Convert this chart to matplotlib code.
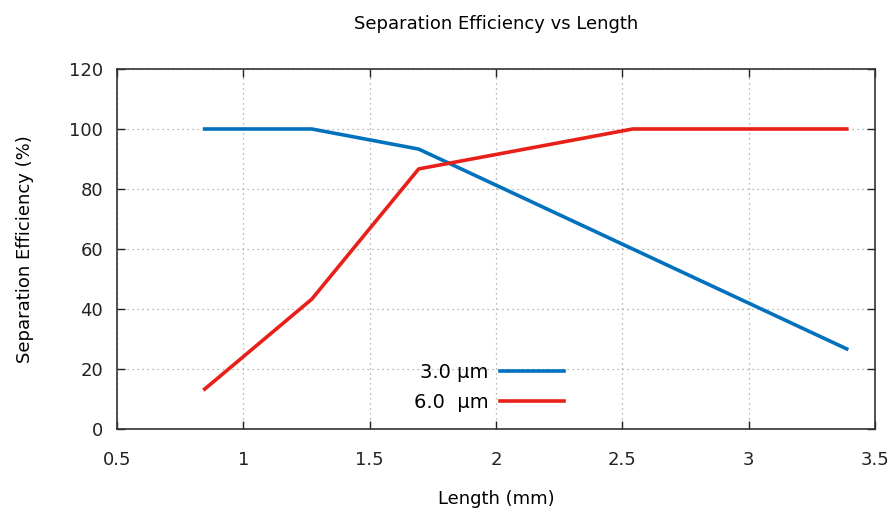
import numpy as np
import matplotlib.pyplot as plt

# longitud del canal (mm) y eficiencia de separación (%)
length_mm = [0.847, 1.271, 1.694, 2.541, 3.388]
eff_3um = [100.0, 100.0, 93.3, 60.0, 26.7]
eff_6um = [13.3, 43.3, 86.7, 100.0, 100.0]
labels = ['3.0 µm', '6.0  µm']

x_ticks = [0.5, 1, 1.5, 2, 2.5, 3, 3.5]
x_ticklabels = ['0.5', '1', '1.5', '2', '2.5', '3', '3.5']
y_ticks = [0, 20, 40, 60, 80, 100, 120]

plt.rcParams['font.family'] = ['DejaVu Sans']

fig = plt.figure(figsize=(8.96, 5.16), dpi=100)
ax = fig.add_axes([0.1306, 0.1686, 0.846, 0.6977])

ax.plot(length_mm, eff_3um, color='#0072bd', linewidth=2.6, label=labels[0])
ax.plot(length_mm, eff_6um, color='#e8201a', linewidth=2.6, label=labels[1])

ax.set_xlim(0.5, 3.5)
ax.set_ylim(0, 120)
ax.set_xticks(x_ticks)
ax.set_xticklabels(x_ticklabels)
ax.set_yticks(y_ticks)
ax.tick_params(direction='in', length=6, width=1, labelsize=13,
               top=True, right=True, colors='#222222')
ax.tick_params(axis='x', pad=16)
ax.tick_params(axis='y', pad=10)
ax.grid(True, linestyle=(0, (1, 3)), color='#a0a0a0', linewidth=0.9)
for s in ax.spines.values():
    s.set_linewidth(1.2)
    s.set_color('#333333')

ax.set_title('Separation Efficiency vs Length', fontsize=13, pad=29)
ax.set_xlabel('Length (mm)', fontsize=13, labelpad=15)
ax.set_ylabel('Separation Efficiency (%)', fontsize=13, labelpad=25)

ax.legend(loc='upper right', bbox_to_anchor=(0.6, 0.205), frameon=False,
          markerfirst=False, handlelength=3.3, fontsize=14,
          labelspacing=0.55, borderaxespad=0, handletextpad=0.6)

plt.savefig('out.png', dpi=100)
